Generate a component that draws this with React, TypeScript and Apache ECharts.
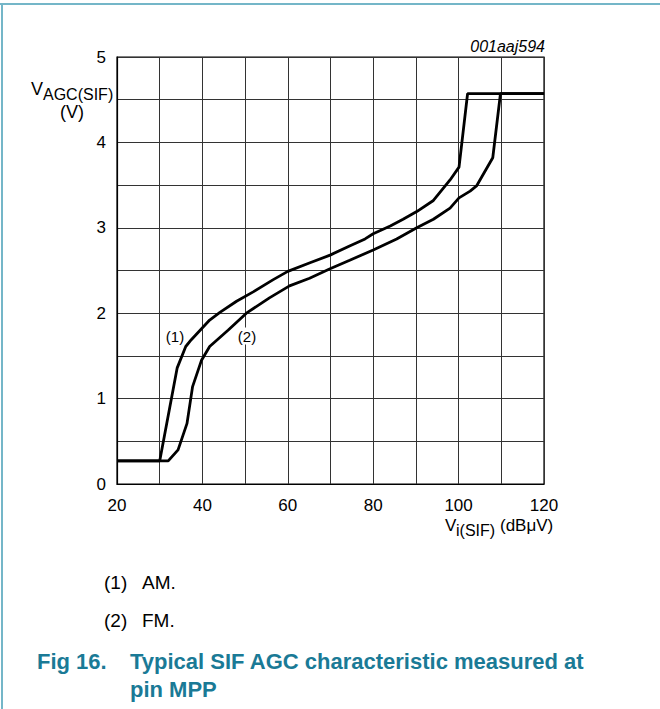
import React, { useEffect, useRef } from "react";
import * as echarts from "echarts";

const xTicks = [20, 40, 60, 80, 100, 120];
const yTicks = [0, 1, 2, 3, 4, 5];

const amX = [20, 30, 34.1, 36.1, 37.4, 41.7, 44.1, 48, 51.9, 56.5, 60, 65.2, 69.9, 74.6, 78.1, 80, 84, 87, 90.2, 94.1, 98, 100.1, 102.1, 120];
const amY = [0.27, 0.27, 1.36, 1.61, 1.69, 1.92, 2.01, 2.14, 2.25, 2.39, 2.49, 2.59, 2.68, 2.79, 2.87, 2.93, 3.02, 3.1, 3.19, 3.32, 3.56, 3.71, 4.57, 4.57];

const fmX = [20, 32, 34.3, 36.4, 37.7, 39.8, 41.7, 46, 50.3, 55.7, 60.4, 65.1, 69.9, 74.5, 80, 85.5, 90.2, 94.1, 98, 100.1, 102.7, 104.2, 108, 109.8, 120];
const fmY = [0.27, 0.27, 0.4, 0.71, 1.14, 1.45, 1.61, 1.8, 2.0, 2.18, 2.32, 2.41, 2.52, 2.62, 2.74, 2.87, 3.0, 3.1, 3.23, 3.35, 3.43, 3.49, 3.82, 4.57, 4.57];

const FONT = "'Liberation Sans', Arial, sans-serif";
const TEAL = "#1a7a96";

export default function App() {
  const ref = useRef<HTMLDivElement>(null);
  useEffect(() => {
    if (!ref.current) return;
    const chart = echarts.init(ref.current, undefined, { renderer: "svg" });
    const am = amX.map((x, i) => [x, amY[i]]);
    const fm = fmX.map((x, i) => [x, fmY[i]]);
    chart.setOption({
      animation: false,
      backgroundColor: "#fff",
      grid: { left: 117, right: 116, top: 57, bottom: 225, show: true, borderColor: "#000", borderWidth: 1.2 },
      xAxis: {
        type: "value",
        min: 20,
        max: 120,
        interval: 10,
        axisLine: { show: true, lineStyle: { color: "#000", width: 1.2 } },
        axisTick: { show: false },
        splitLine: { show: true, lineStyle: { color: "#333", width: 1 } },
        axisLabel: {
          margin: 13,
          fontSize: 17,
          lineHeight: 17,
          fontFamily: FONT,
          color: "#000",
          formatter: (v: number) => (xTicks.includes(v) ? String(v) : ""),
        },
      },
      yAxis: {
        type: "value",
        min: 0,
        max: 5,
        interval: 0.5,
        axisLine: { show: true, lineStyle: { color: "#000", width: 1.2 } },
        axisTick: { show: false },
        splitLine: { show: true, lineStyle: { color: "#333", width: 1 } },
        axisLabel: {
          margin: 11,
          fontSize: 17,
          fontFamily: FONT,
          color: "#000",
          formatter: (v: number) => (yTicks.includes(v) ? String(v) : ""),
        },
      },
      series: [
        { type: "line", name: "AM", data: am, showSymbol: false, lineStyle: { color: "#000", width: 2.8 }, z: 3 },
        { type: "line", name: "FM", data: fm, showSymbol: false, lineStyle: { color: "#000", width: 2.8 }, z: 3 },
      ],
      graphic: [
        { type: "line", shape: { x1: 0, y1: 4, x2: 660, y2: 4 }, style: { stroke: "#74b6c8", lineWidth: 2 } },
        { type: "line", shape: { x1: 2, y1: 3, x2: 2, y2: 709 }, style: { stroke: "#74b6c8", lineWidth: 2 } },
        { type: "text", x: 545, y: 46, style: { text: "001aaj594", font: `italic 16px ${FONT}`, fill: "#000", align: "right", verticalAlign: "middle" } },
        { type: "text", x: 31, y: 89, style: { text: "V", font: `18px ${FONT}`, fill: "#000", align: "left", verticalAlign: "middle" } },
        { type: "text", x: 43, y: 94, style: { text: "AGC(SIF)", font: `16px ${FONT}`, fill: "#000", align: "left", verticalAlign: "middle" } },
        { type: "text", x: 72, y: 112, style: { text: "(V)", font: `18px ${FONT}`, fill: "#000", align: "center", verticalAlign: "middle" } },
        { type: "text", x: 445, y: 525, style: { text: "V", font: `17px ${FONT}`, fill: "#000", align: "left", verticalAlign: "middle" } },
        { type: "text", x: 456, y: 530, style: { text: "i(SIF)", font: `16px ${FONT}`, fill: "#000", align: "left", verticalAlign: "middle" } },
        { type: "text", x: 500, y: 525, style: { text: "(dBμV)", font: `17px ${FONT}`, fill: "#000", align: "left", verticalAlign: "middle" } },
        { type: "text", x: 175, y: 336, z: 10, style: { text: "(1)", font: `15px ${FONT}`, fill: "#000", align: "center", verticalAlign: "middle", backgroundColor: "#fff", padding: [1, 1] } },
        { type: "text", x: 247, y: 336, z: 10, style: { text: "(2)", font: `15px ${FONT}`, fill: "#000", align: "center", verticalAlign: "middle", backgroundColor: "#fff", padding: [1, 1] } },
        { type: "text", x: 104, y: 582, style: { text: "(1)", font: `19px ${FONT}`, fill: "#000", align: "left", verticalAlign: "middle" } },
        { type: "text", x: 142, y: 582, style: { text: "AM.", font: `19px ${FONT}`, fill: "#000", align: "left", verticalAlign: "middle" } },
        { type: "text", x: 104, y: 620, style: { text: "(2)", font: `19px ${FONT}`, fill: "#000", align: "left", verticalAlign: "middle" } },
        { type: "text", x: 142, y: 620, style: { text: "FM.", font: `19px ${FONT}`, fill: "#000", align: "left", verticalAlign: "middle" } },
        { type: "text", x: 37, y: 661, style: { text: "Fig 16.", font: `bold 22px ${FONT}`, fill: TEAL, align: "left", verticalAlign: "middle" } },
        { type: "text", x: 130, y: 661, style: { text: "Typical SIF AGC characteristic measured at", font: `bold 22px ${FONT}`, fill: TEAL, align: "left", verticalAlign: "middle" } },
        { type: "text", x: 130, y: 689, style: { text: "pin MPP", font: `bold 22px ${FONT}`, fill: TEAL, align: "left", verticalAlign: "middle" } },
      ],
    });
    return () => chart.dispose();
  }, []);
  return <div ref={ref} style={{ position: "absolute", left: 0, top: 0, width: 660, height: 709 }} />;
}
